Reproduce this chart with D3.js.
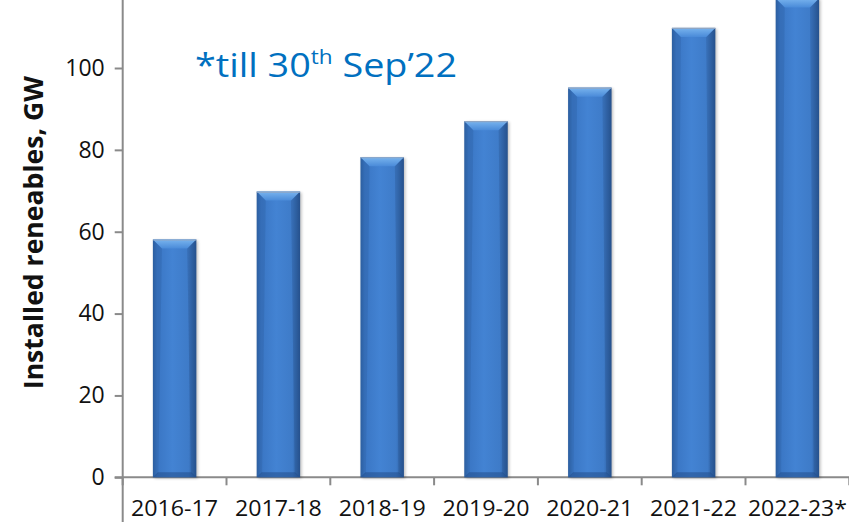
<!DOCTYPE html>
<html>
<head>
<meta charset="utf-8">
<script src="https://cdn.jsdelivr.net/npm/d3@7"></script>
<style>
  html, body { margin: 0; padding: 0; background: #fff; }
  svg { display: block; }
  text { font-family: "Open Sans", "Liberation Sans", sans-serif; }
</style>
</head>
<body>
<div id="chart"></div>
<script>
// Installed renewable capacity in India by financial year (GW)
const years = ["2016-17", "2017-18", "2018-19", "2019-20", "2020-21", "2021-22", "2022-23*"];
const capacityGW = [58.1, 69.8, 78.2, 87.0, 95.2, 109.8, 117.0];
const yTicks = [0, 20, 40, 60, 80, 100];
const axisTitle = "Installed reneables, GW";

const W = 849, H = 522;
const svg = d3.select("#chart").append("svg").attr("width", W).attr("height", H);

const x = d3.scaleBand()
  .domain(years)
  .range([122.7, 849.3])
  .paddingInner(0.582)
  .paddingOuter(0.291);

const y = d3.scaleLinear()
  .domain([0, 120])
  .range([477.3, 477.3 - 120 * 4.093]);

const defs = svg.append("defs");

// Horizontal shading across each column
const body = defs.append("linearGradient").attr("id", "barBody")
  .attr("x1", "0%").attr("x2", "100%").attr("y1", "0%").attr("y2", "0%");
[["0%", "#2f63a6"], ["10%", "#3a76c4"], ["45%", "#4383d3"], ["82%", "#3e7bc8"], ["100%", "#285694"]]
  .forEach(([o, c]) => body.append("stop").attr("offset", o).attr("stop-color", c));

const bevelTop = defs.append("linearGradient").attr("id", "bevelTop")
  .attr("x1", "0%").attr("x2", "0%").attr("y1", "0%").attr("y2", "100%");
[["0%", "#79b4ee"], ["100%", "#4a8bd9"]]
  .forEach(([o, c]) => bevelTop.append("stop").attr("offset", o).attr("stop-color", c));

const shadow = defs.append("filter").attr("id", "shadow")
  .attr("x", "-20%").attr("y", "-5%").attr("width", "140%").attr("height", "110%");
shadow.append("feGaussianBlur").attr("stdDeviation", 1.6);

// Axes
const yAxis = d3.axisLeft(y).tickValues(yTicks).tickSize(8).tickPadding(10).tickFormat(d3.format("d"));
const gy = svg.append("g").attr("transform", `translate(${x.range()[0]},0)`).call(yAxis);
gy.select(".domain").attr("d", `M0,${H}V-30`);
gy.selectAll(".domain, .tick line").attr("stroke", "#8a8a8a").attr("stroke-width", 2);
gy.selectAll(".tick text")
  .attr("font-size", 23).attr("fill", "#111")
  .attr("font-family", "'Open Sans', sans-serif");

// Category ticks sit on the band boundaries
const xAxisG = svg.append("g").attr("transform", `translate(0,${y(0)})`);
xAxisG.append("line")
  .attr("x1", x.range()[0] - 8).attr("x2", W + 2)
  .attr("stroke", "#8a8a8a").attr("stroke-width", 2);
const bounds = years.map(d => x(d) - x.step() * x.paddingOuter()).concat([x.range()[1]]);
xAxisG.selectAll(".bt").data(bounds).enter().append("line")
  .attr("x1", d => d).attr("x2", d => d)
  .attr("y1", 0).attr("y2", 8)
  .attr("stroke", "#8a8a8a").attr("stroke-width", 2);
xAxisG.selectAll(".lbl").data(years).enter().append("text")
  .attr("x", d => x(d) + x.bandwidth() / 2)
  .attr("y", 38.5)
  .attr("text-anchor", "middle")
  .attr("font-size", 21)
  .attr("fill", "#111")
  .attr("textLength", d => d.length > 7 ? 99 : 87)
  .attr("lengthAdjust", "spacingAndGlyphs")
  .text(d => d);

// Columns
const bars = svg.append("g").selectAll("g").data(years.map((d, i) => ({ year: d, v: capacityGW[i] })))
  .enter().append("g");

bars.append("rect")
  .attr("x", d => x(d.year) + 1.5)
  .attr("y", d => y(d.v) + 1)
  .attr("width", x.bandwidth())
  .attr("height", d => y(0) - y(d.v))
  .attr("fill", "#000").attr("opacity", 0.25)
  .attr("filter", "url(#shadow)");

bars.append("rect")
  .attr("x", d => x(d.year))
  .attr("y", d => y(d.v))
  .attr("width", x.bandwidth())
  .attr("height", d => y(0) - y(d.v))
  .attr("fill", "url(#barBody)");

const bv = 9;
bars.append("path")
  .attr("d", d => {
    const x0 = x(d.year), x1 = x0 + x.bandwidth(), t = y(d.v);
    return `M${x0},${t}L${x1},${t}L${x1 - bv},${t + bv}L${x0 + bv},${t + bv}Z`;
  })
  .attr("fill", "url(#bevelTop)");
bars.append("path")
  .attr("d", d => {
    const x0 = x(d.year), t = y(d.v), b = y(0);
    return `M${x0},${t}L${x0 + bv},${t + bv}L${x0 + bv * 0.6},${b - 4}L${x0},${b}Z`;
  })
  .attr("fill", "#25548f").attr("opacity", 0.22);
bars.append("path")
  .attr("d", d => {
    const x1 = x(d.year) + x.bandwidth(), t = y(d.v), b = y(0);
    return `M${x1},${t}L${x1 - bv},${t + bv}L${x1 - bv * 0.6},${b - 4}L${x1},${b}Z`;
  })
  .attr("fill", "#1e4478").attr("opacity", 0.25);
bars.append("path")
  .attr("d", d => {
    const x0 = x(d.year), x1 = x0 + x.bandwidth(), b = y(0);
    return `M${x0},${b}L${x1},${b}L${x1 - 5},${b - 5}L${x0 + 5},${b - 5}Z`;
  })
  .attr("fill", "#1f4a85").attr("opacity", 0.5);
bars.append("line")
  .attr("x1", d => x(d.year)).attr("x2", d => x(d.year) + x.bandwidth())
  .attr("y1", d => y(d.v) + 0.5).attr("y2", d => y(d.v) + 0.5)
  .attr("stroke", "#8fa6c4").attr("stroke-width", 1.2);

// Axis title
svg.append("text")
  .attr("transform", `translate(43,${(y(0) + y(100)) / 2 - 40}) rotate(-90)`)
  .attr("text-anchor", "middle")
  .attr("font-size", 27)
  .attr("font-weight", "bold")
  .attr("fill", "#111")
  .attr("textLength", 313)
  .attr("lengthAdjust", "spacingAndGlyphs")
  .text(axisTitle);

// Footnote for the partial year
const note = svg.append("text")
  .attr("x", 195).attr("y", 76.7)
  .attr("font-size", 33.5)
  .attr("fill", "#0070c0")
  .attr("textLength", 262)
  .attr("lengthAdjust", "spacingAndGlyphs");
note.append("tspan").text("*till 30");
note.append("tspan").attr("font-size", 20).attr("dy", -13).text("th");
note.append("tspan").attr("dy", 13).text(" Sep\u201922");
</script>
</body>
</html>
